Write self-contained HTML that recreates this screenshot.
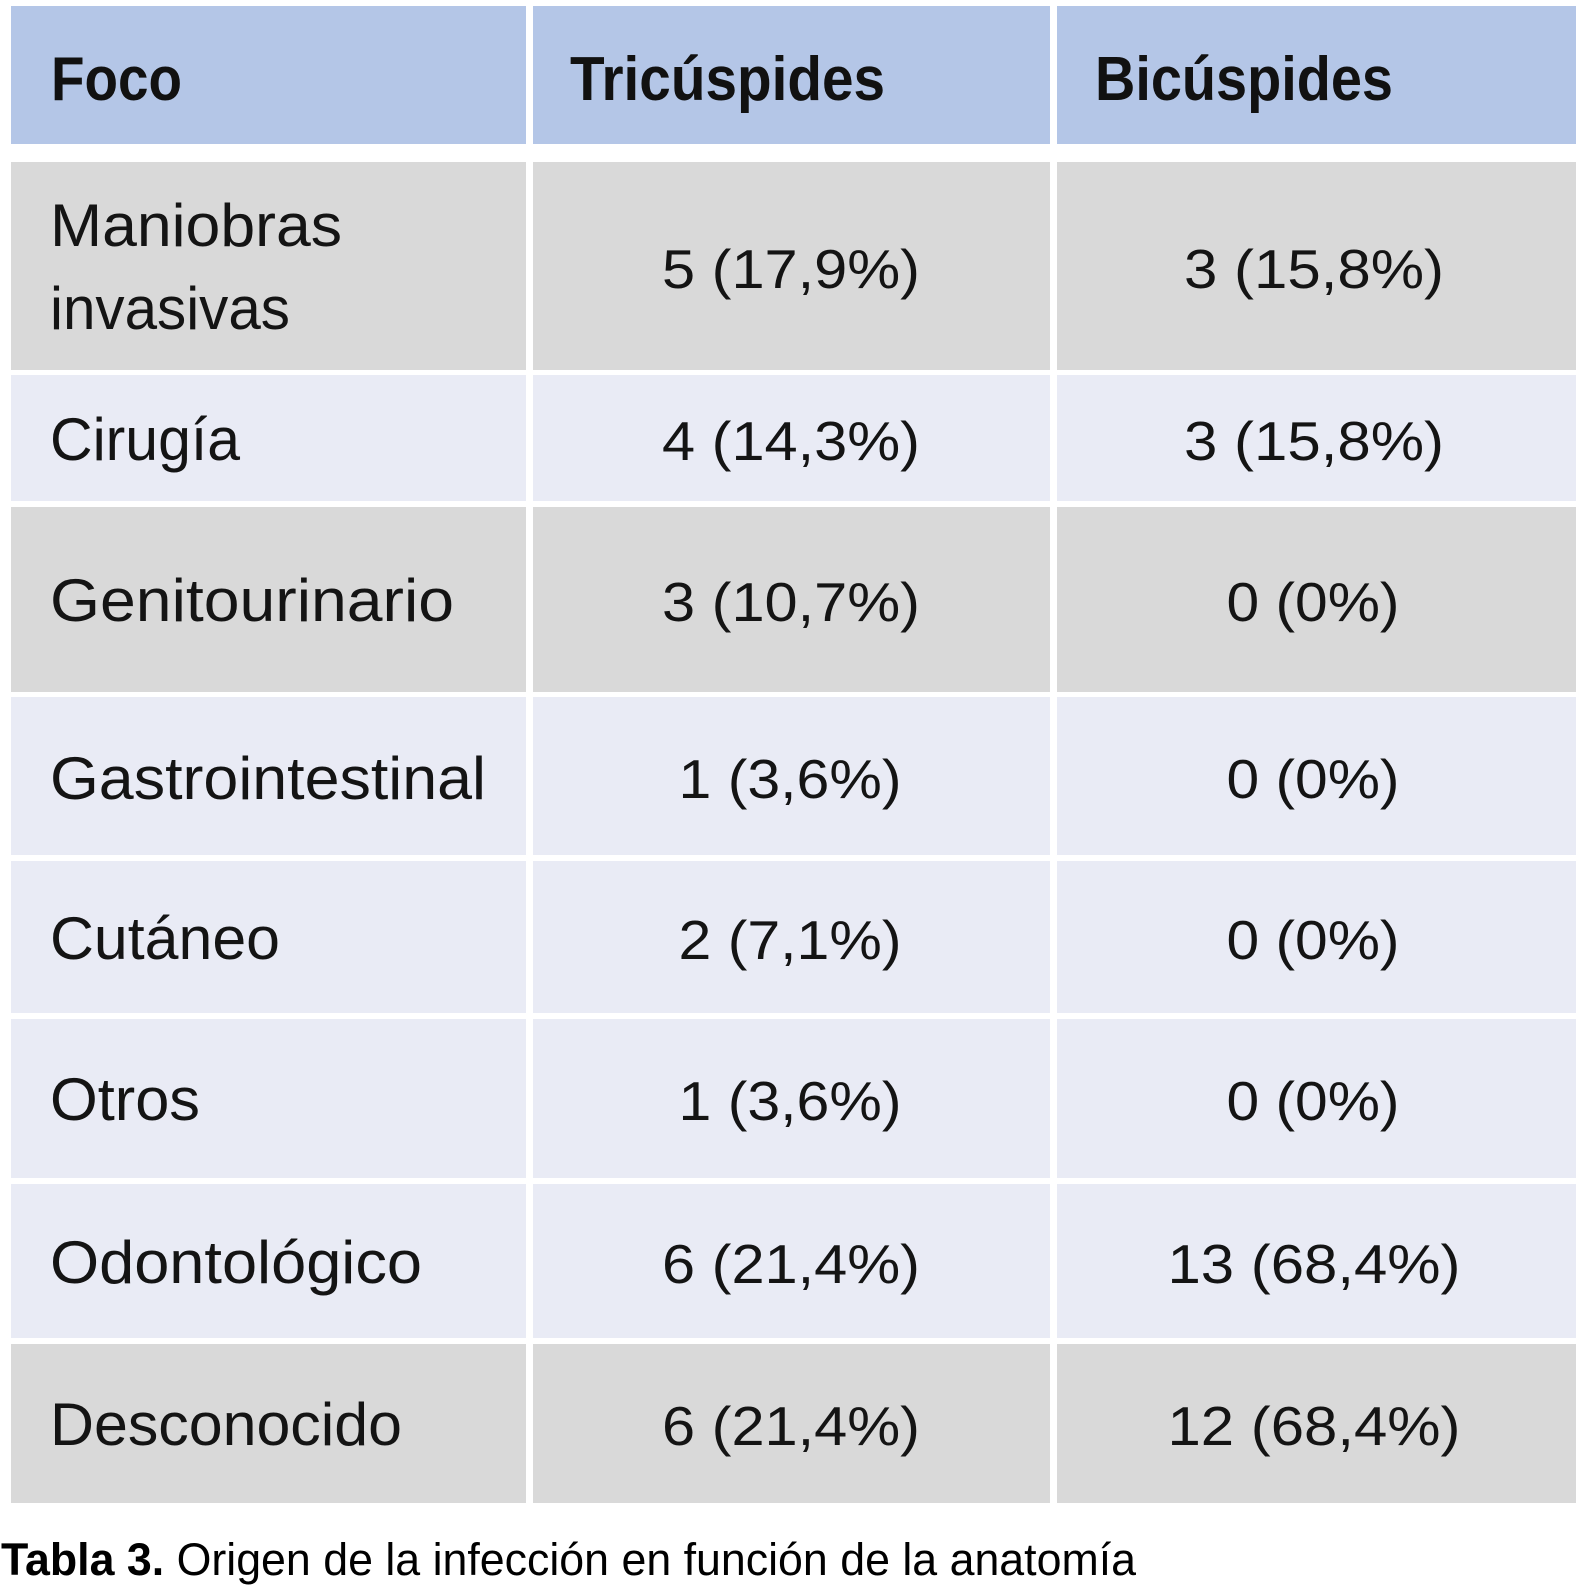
<!DOCTYPE html>
<html>
<head>
<meta charset="utf-8">
<style>
  html,body{margin:0;padding:0;background:#ffffff;}
  svg{display:block;}
  .h{font-family:"Liberation Sans",sans-serif;font-weight:bold;font-size:62px;fill:#111111;}
  .l{font-family:"Liberation Sans",sans-serif;font-size:60px;fill:#141414;}
  .v{font-family:"Liberation Sans",sans-serif;font-size:55px;fill:#141414;}
  .c{font-family:"Liberation Sans",sans-serif;font-size:45px;fill:#000000;}
</style>
</head>
<body>
<svg width="1583" height="1586" viewBox="0 0 1583 1586" xmlns="http://www.w3.org/2000/svg">
  <rect x="0" y="0" width="1583" height="1586" fill="#ffffff"/>

  <!-- Header -->
  <rect x="11" y="6" width="515" height="138" fill="#b4c6e7"/>
  <rect x="533" y="6" width="517" height="138" fill="#b4c6e7"/>
  <rect x="1057" y="6" width="519" height="138" fill="#b4c6e7"/>

  <!-- Row backgrounds -->
  <!-- R1 gray -->
  <rect x="11" y="162" width="515" height="208" fill="#d9d9d9"/>
  <rect x="533" y="162" width="517" height="208" fill="#d9d9d9"/>
  <rect x="1057" y="162" width="519" height="208" fill="#d9d9d9"/>
  <!-- R2 light -->
  <rect x="11" y="375" width="515" height="126" fill="#e9ebf5"/>
  <rect x="533" y="375" width="517" height="126" fill="#e9ebf5"/>
  <rect x="1057" y="375" width="519" height="126" fill="#e9ebf5"/>
  <!-- R3 gray -->
  <rect x="11" y="507" width="515" height="185" fill="#d9d9d9"/>
  <rect x="533" y="507" width="517" height="185" fill="#d9d9d9"/>
  <rect x="1057" y="507" width="519" height="185" fill="#d9d9d9"/>
  <!-- R4 light -->
  <rect x="11" y="697" width="515" height="158" fill="#e9ebf5"/>
  <rect x="533" y="697" width="517" height="158" fill="#e9ebf5"/>
  <rect x="1057" y="697" width="519" height="158" fill="#e9ebf5"/>
  <!-- R5 light -->
  <rect x="11" y="861" width="515" height="152" fill="#e9ebf5"/>
  <rect x="533" y="861" width="517" height="152" fill="#e9ebf5"/>
  <rect x="1057" y="861" width="519" height="152" fill="#e9ebf5"/>
  <!-- R6 light -->
  <rect x="11" y="1019" width="515" height="159" fill="#e9ebf5"/>
  <rect x="533" y="1019" width="517" height="159" fill="#e9ebf5"/>
  <rect x="1057" y="1019" width="519" height="159" fill="#e9ebf5"/>
  <!-- R7 light -->
  <rect x="11" y="1184" width="515" height="154" fill="#e9ebf5"/>
  <rect x="533" y="1184" width="517" height="154" fill="#e9ebf5"/>
  <rect x="1057" y="1184" width="519" height="154" fill="#e9ebf5"/>
  <!-- R8 gray -->
  <rect x="11" y="1344" width="515" height="159" fill="#d9d9d9"/>
  <rect x="533" y="1344" width="517" height="159" fill="#d9d9d9"/>
  <rect x="1057" y="1344" width="519" height="159" fill="#d9d9d9"/>

  <!-- Header text -->
  <text class="h" x="51" y="100" textLength="131" lengthAdjust="spacingAndGlyphs">Foco</text>
  <text class="h" x="570" y="100" textLength="315" lengthAdjust="spacingAndGlyphs">Tricúspides</text>
  <text class="h" x="1095" y="100" textLength="298" lengthAdjust="spacingAndGlyphs">Bicúspides</text>

  <!-- Left column -->
  <text class="l" x="50" y="246" textLength="292" lengthAdjust="spacingAndGlyphs">Maniobras</text>
  <text class="l" x="50" y="329" textLength="240" lengthAdjust="spacingAndGlyphs">invasivas</text>
  <text class="l" x="50" y="460" textLength="190" lengthAdjust="spacingAndGlyphs">Cirugía</text>
  <text class="l" x="50" y="621" textLength="404" lengthAdjust="spacingAndGlyphs">Genitourinario</text>
  <text class="l" x="50" y="799" textLength="436" lengthAdjust="spacingAndGlyphs">Gastrointestinal</text>
  <text class="l" x="50" y="959" textLength="230" lengthAdjust="spacingAndGlyphs">Cutáneo</text>
  <text class="l" x="50" y="1120" textLength="150" lengthAdjust="spacingAndGlyphs">Otros</text>
  <text class="l" x="50" y="1283" textLength="372" lengthAdjust="spacingAndGlyphs">Odontológico</text>
  <text class="l" x="50" y="1445" textLength="352" lengthAdjust="spacingAndGlyphs">Desconocido</text>

  <!-- Tricúspides values -->
  <text class="v" x="791" y="288" text-anchor="middle" textLength="258" lengthAdjust="spacingAndGlyphs">5 (17,9%)</text>
  <text class="v" x="791" y="460" text-anchor="middle" textLength="258" lengthAdjust="spacingAndGlyphs">4 (14,3%)</text>
  <text class="v" x="791" y="621" text-anchor="middle" textLength="258" lengthAdjust="spacingAndGlyphs">3 (10,7%)</text>
  <text class="v" x="790" y="798" text-anchor="middle" textLength="223" lengthAdjust="spacingAndGlyphs">1 (3,6%)</text>
  <text class="v" x="790" y="959" text-anchor="middle" textLength="223" lengthAdjust="spacingAndGlyphs">2 (7,1%)</text>
  <text class="v" x="790" y="1120" text-anchor="middle" textLength="223" lengthAdjust="spacingAndGlyphs">1 (3,6%)</text>
  <text class="v" x="791" y="1283" text-anchor="middle" textLength="258" lengthAdjust="spacingAndGlyphs">6 (21,4%)</text>
  <text class="v" x="791" y="1445" text-anchor="middle" textLength="258" lengthAdjust="spacingAndGlyphs">6 (21,4%)</text>

  <!-- Bicúspides values -->
  <text class="v" x="1314" y="288" text-anchor="middle" textLength="260" lengthAdjust="spacingAndGlyphs">3 (15,8%)</text>
  <text class="v" x="1314" y="460" text-anchor="middle" textLength="260" lengthAdjust="spacingAndGlyphs">3 (15,8%)</text>
  <text class="v" x="1313" y="621" text-anchor="middle" textLength="173" lengthAdjust="spacingAndGlyphs">0 (0%)</text>
  <text class="v" x="1313" y="798" text-anchor="middle" textLength="173" lengthAdjust="spacingAndGlyphs">0 (0%)</text>
  <text class="v" x="1313" y="959" text-anchor="middle" textLength="173" lengthAdjust="spacingAndGlyphs">0 (0%)</text>
  <text class="v" x="1313" y="1120" text-anchor="middle" textLength="173" lengthAdjust="spacingAndGlyphs">0 (0%)</text>
  <text class="v" x="1314" y="1283" text-anchor="middle" textLength="293" lengthAdjust="spacingAndGlyphs">13 (68,4%)</text>
  <text class="v" x="1314" y="1445" text-anchor="middle" textLength="293" lengthAdjust="spacingAndGlyphs">12 (68,4%)</text>

  <!-- Caption -->
  <text class="c" x="1" y="1575" textLength="1135" lengthAdjust="spacingAndGlyphs"><tspan font-weight="bold">Tabla 3.</tspan> Origen de la infección en función de la anatomía</text>
</svg>
</body>
</html>
